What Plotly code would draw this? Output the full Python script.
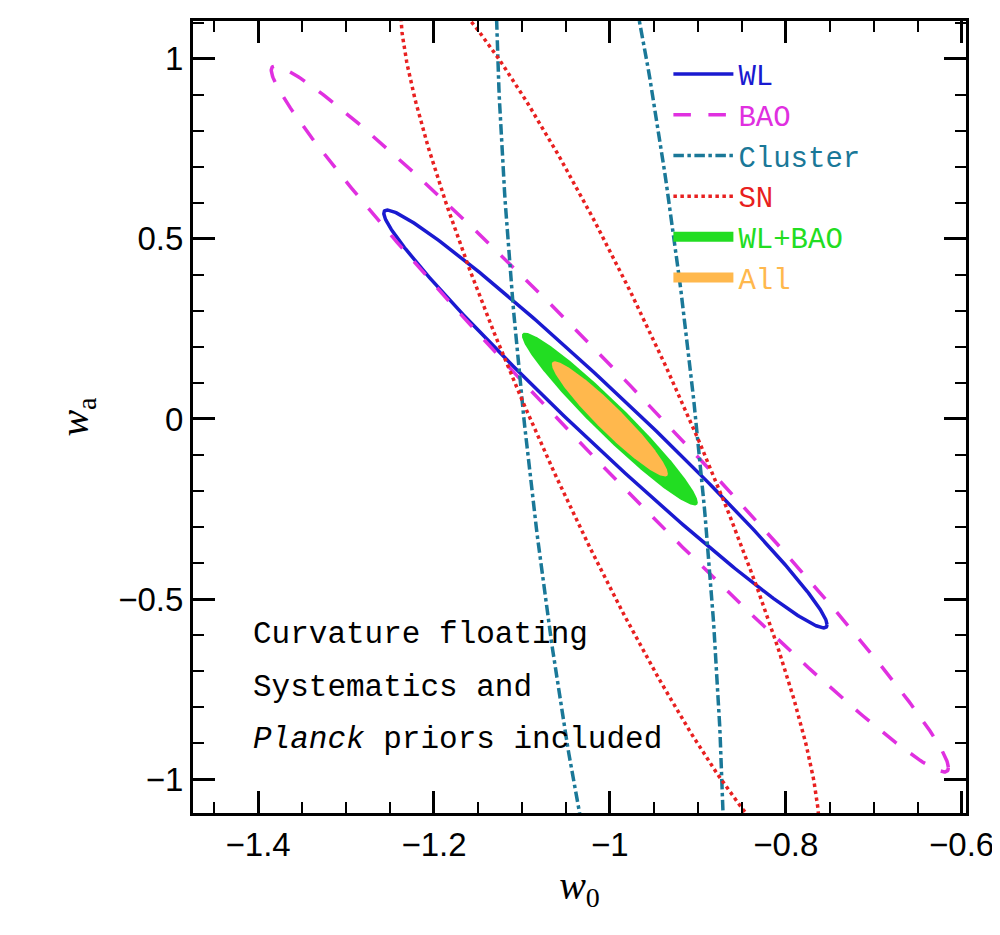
import numpy as np
import plotly.graph_objects as go

# Fisher-type 1-sigma contours: centre, sigma_w0, sigma_wa, correlation
names = ["WL", "BAO", "Cluster", "SN", "WL+BAO", "All"]
colors = ["#1a1ad0", "#e030e0", "#1a7898", "#e82020", "#22dd22", "#ffb84d"]
cx = [-1.005, -1.0, -1.0, -1.0, -1.0, -1.0]
cy = [0.0, 0.0, 0.0, 0.0, 0.0, 0.0]
sig_w0 = [0.252, 0.385, 0.13, 0.238, 0.10, 0.066]
sig_wa = [0.58, 0.98, 2.0, 1.23, 0.24, 0.16]
rho = [-0.985, -0.988, -0.66, -0.925, -0.965, -0.95]
dashes = ["solid", "longdash", "dashdot", "dot", None, None]
xticks = [-1.4, -1.2, -1.0, -0.8, -0.6]
xlabels = ["−1.4", "−1.2", "−1", "−0.8", "−0.6"]

t = np.linspace(0, 2 * np.pi, 400)
fig = go.Figure()
# filled ones first
for i in [4, 5]:
    x = cx[i] + sig_w0[i] * np.cos(t)
    y = cy[i] + sig_wa[i] * (rho[i] * np.cos(t) + np.sqrt(1 - rho[i] ** 2) * np.sin(t))
    fig.add_trace(go.Scatter(x=x, y=y, mode="lines", fill="toself", fillcolor=colors[i],
                             line=dict(width=0, color=colors[i]), showlegend=False))
for i in [0, 1, 2, 3]:
    x = cx[i] + sig_w0[i] * np.cos(t)
    y = cy[i] + sig_wa[i] * (rho[i] * np.cos(t) + np.sqrt(1 - rho[i] ** 2) * np.sin(t))
    fig.add_trace(go.Scatter(x=x, y=y, mode="lines", showlegend=False,
                             line=dict(color=colors[i], width=3.5, dash=dashes[i])))

# legend entries
for i in range(6):
    w = 13 if dashes[i] is None else 3.5
    fig.add_trace(go.Scatter(x=[None], y=[None], mode="lines",
                             name="<span style='color:%s'>%s</span>" % (colors[i], names[i]),
                             line=dict(color=colors[i], width=w, dash=dashes[i] or "solid")))

mono = "Liberation Mono"
axis = dict(showline=True, linewidth=3, linecolor="black", mirror="allticks",
            ticks="inside", ticklen=22, tickwidth=2.5, tickcolor="black",
            showgrid=False, zeroline=False, ticklabeloverflow="allow",
            tickfont=dict(family="Liberation Sans", size=33, color="black"))
fig.update_xaxes(axis, range=[-1.474, -0.595], tickvals=xticks, ticktext=xlabels,
                 minor=dict(dtick=0.05, ticklen=11, tickwidth=2, tickcolor="black", ticks="inside"),
                 title=dict(text="<i>w</i><sub>0</sub>",
                            font=dict(family="Liberation Serif", size=40, color="black"), standoff=8))
fig.update_yaxes(axis, range=[-1.094, 1.105], dtick=0.5, tick0=0,
                 minor=dict(dtick=0.1, ticklen=11, tickwidth=2, tickcolor="black", ticks="inside"),
                 title=dict(text="<i>w</i><sub>a</sub>",
                            font=dict(family="Liberation Serif", size=40, color="black"), standoff=18))

for k, txt in enumerate(["Curvature floating", "Systematics and", "<i>Planck</i> priors included"]):
    fig.add_annotation(x=0.075, y=0.225 - k * 0.066, xref="paper", yref="paper",
                       text=txt, showarrow=False, xanchor="left", yanchor="middle",
                       font=dict(family=mono, size=31, color="black"))

fig.update_layout(width=1000, height=935, margin=dict(l=185, r=42, t=10, b=130),
                  plot_bgcolor="white", paper_bgcolor="white",
                  legend=dict(x=0.615, y=0.965, xanchor="left", yanchor="top",
                              bgcolor="rgba(0,0,0,0)", font=dict(family=mono, size=29),
                              tracegroupgap=0, itemwidth=60))
fig.write_html("out.html")
